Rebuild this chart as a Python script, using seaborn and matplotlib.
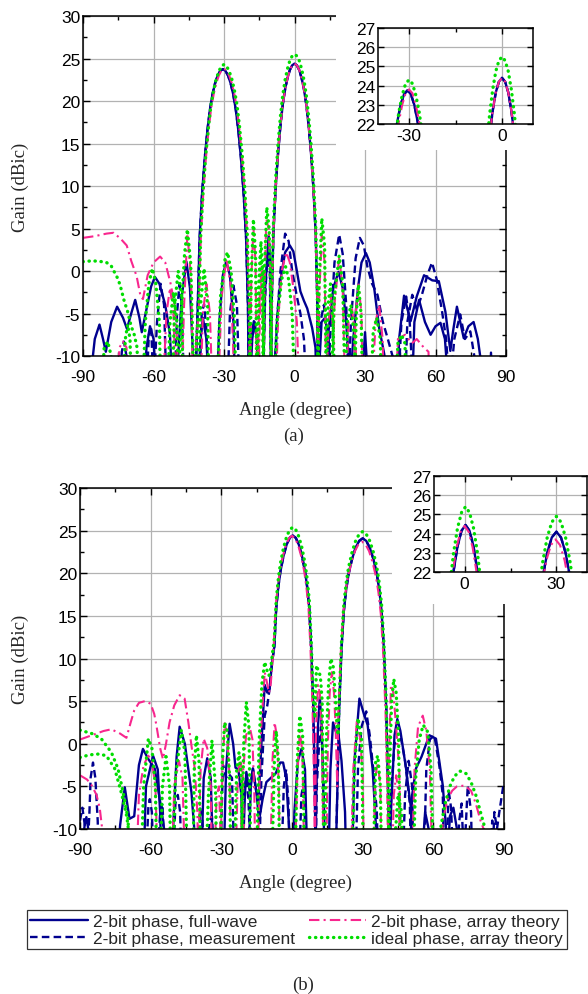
import matplotlib
matplotlib.use('Agg')
import matplotlib.pyplot as plt
from matplotlib.lines import Line2D
from matplotlib.patches import Rectangle
import seaborn as sns

# ---------------------------
# data: (angle deg, gain dBic); values below -10 are just clipped by the axes
# ---------------------------
# panel (a), beam at -30 deg
a_main_m30_blue = [(-41.2, -4.3), (-40.4, 3.8), (-39.3, 9.3), (-38.2, 13.3), (-37.1, 16.5), (-36, 19.0), (-34.9, 20.8),
                   (-33.8, 22.1), (-32.7, 23.0), (-31.6, 23.55), (-30.5, 23.75), (-29.4, 23.55), (-28.3, 23.0),
                   (-27.2, 22.1), (-26.1, 20.8), (-25, 19.0), (-23.9, 16.5), (-22.8, 13.3), (-21.7, 9.3),
                   (-20.6, 3.8), (-19.8, -4.3)]
a_main_m30_pink = [(-40.7, -4.2), (-39.9, 3.8), (-38.8, 9.3), (-37.7, 13.3), (-36.6, 16.5), (-35.5, 19.1), (-34.4, 20.8),
                   (-33.3, 22.1), (-32.2, 23.0), (-31.1, 23.6), (-30, 23.8), (-28.9, 23.6), (-27.8, 23.0),
                   (-26.7, 22.1), (-25.6, 20.8), (-24.5, 19.1), (-23.4, 16.5), (-22.3, 13.3), (-21.2, 9.3),
                   (-20.1, 3.8), (-19.3, -4.2)]
a_main_m30_green = [(-40.7, -3.7), (-39.9, 4.3), (-38.8, 9.8), (-37.7, 13.8), (-36.6, 17.0), (-35.5, 19.6), (-34.4, 21.3),
                    (-33.3, 22.6), (-32.2, 23.5), (-31.1, 24.1), (-30, 24.3), (-28.9, 24.1), (-27.8, 23.5),
                    (-26.7, 22.6), (-25.6, 21.3), (-24.5, 19.6), (-23.4, 17.0), (-22.3, 13.8), (-21.2, 9.8),
                    (-20.1, 4.3), (-19.3, -3.7)]
# panel (a), beam at 0 deg
a_main_0_2bit = [(-9.7, -3.6), (-9, 4.4), (-8, 9.9), (-7, 13.9), (-6, 17.1), (-5, 19.6), (-4, 21.4), (-3, 22.7),
                 (-2, 23.65), (-1, 24.2), (0, 24.4), (1, 24.2), (2, 23.65), (3, 22.7), (4, 21.4), (5, 19.6),
                 (6, 17.1), (7, 13.9), (8, 9.9), (9, 4.4), (9.7, -3.6)]
a_main_0_green = [(-9.7, -2.5), (-9, 5.5), (-8, 11.0), (-7, 15.0), (-6, 18.2), (-5, 20.7), (-4, 22.5), (-3, 23.8),
                  (-2, 24.75), (-1, 25.3), (0, 25.5), (1, 25.3), (2, 24.75), (3, 23.8), (4, 22.5), (5, 20.7),
                  (6, 18.2), (7, 15.0), (8, 11.0), (9, 5.5), (9.7, -2.5)]

a_fw_m30 = ([(-90, -14), (-86, -10.5), (-85, -8), (-83, -6.3), (-81.5, -8), (-80.3, -9.5), (-78, -6), (-75.5, -4.2),
             (-73, -5.5), (-71.3, -6.8), (-69.5, -5), (-67.8, -3.4), (-66, -5.5), (-65, -7.2), (-63, -4.5),
             (-61, -1.8), (-59.4, -0.7), (-57.5, -1.5), (-55, -4), (-53, -7.5), (-52, -14), (-49.5, -10),
             (-48, -3), (-46, 1.1), (-44.5, -2), (-43.2, -10), (-42.3, -14)]
            + a_main_m30_blue +
            [(-19.5, -14), (-18.8, -8), (-17.3, -5.9), (-16, -8), (-15, -14), (-9, -14), (-8, -9.4), (-7.4, -5.5),
             (-5.9, -0.9), (-4, 2.2), (-2, 3.0), (-0.5, 2.3), (1, 0), (2.5, -2.4), (4, -3.5), (5.4, -4.4),
             (7.5, -6.7), (8.9, -9), (9.5, -14), (13.5, -14), (14.5, -7), (16.5, -2), (18.7, -0.1), (20.5, -2),
             (22, -6), (23, -10), (23.5, -14), (25, -8), (27, -2), (28.5, 1.0), (30.4, 2.1), (32, 1.0),
             (33.9, -2), (36, -6.7), (38.2, -9.8), (39, -14), (43.8, -14), (44.5, -8), (46.6, -2.9),
             (49.4, -5.9), (52, -3), (55.1, -0.5), (58.6, -1.1), (61.4, -1.2), (64.2, -4.8), (66.3, -9.4),
             (67.5, -7), (69.1, -4.2), (72, -7.9), (74, -6.5), (76.2, -6), (78, -8), (79, -10), (80, -14),
             (90, -14)])
a_fw_0 = ([(-90, -14), (-64, -14), (-63, -9), (-61.5, -6.5), (-60, -8), (-59, -14), (-41, -14), (-40, -8),
           (-39, -5.5), (-37.5, -8), (-36.5, -14), (-33, -14), (-32, -6), (-30.5, -0.5), (-29, 1.1),
           (-27.5, -0.5), (-26, -6), (-25.3, -14), (-19, -14), (-18, -8), (-17, -6), (-16, -8), (-15.3, -14),
           (-13.5, -14), (-12.5, -2), (-11, 4.2), (-10.4, 1), (-10, -14)]
          + a_main_0_2bit +
          [(10, -14), (11.5, -6), (13, -5.5), (14.5, -8), (15.5, -14), (28.5, -14), (30, -7.2), (31.5, -14),
           (50, -14), (51, -6), (53, -3.4), (55.5, -6), (57.9, -7.5), (60, -6.5), (62.1, -6.1), (64, -8),
           (65.6, -14), (83, -14), (83.6, -9.6), (84.2, -14), (90, -14)])
a_ms_m30 = ([(-90, -14), (-74.5, -14), (-73.5, -9.5), (-72.6, -8.3), (-71.5, -10), (-71, -14), (-60, -14),
             (-58.5, -6), (-57, -1.5), (-55.5, -4), (-54.5, -14), (-51, -14), (-50, -5), (-49, -1.6), (-48, -4),
             (-47, -14), (-42.3, -14)]
            + a_main_m30_blue +
            [(-19.5, -14), (-9, -14), (-7.5, -6), (-6, 0), (-4, 4.4), (-2.5, 3.5), (-1, 0), (1, -3), (2.5, -5),
             (4, -8), (5, -14), (14, -14), (15.5, -6), (17, 1), (19, 4.3), (20.5, 2), (22, -4), (23, -14),
             (24, -6), (26, 1.5), (27.8, 3.9), (29.5, 3.0), (31, 0.5), (33, -1.5), (35.3, -2.8), (37.5, -5.9),
             (39.6, -7.9), (41.7, -10), (42.5, -14), (47, -14), (48, -6), (50.1, -2.8), (52, -4.5), (54, -3),
             (56.5, -0.5), (58.5, 1.0), (60.5, -1), (62.8, -4.8), (64.5, -8), (66, -14), (68, -8), (70.5, -5.1),
             (72.5, -8), (74.8, -7.1), (76.5, -10), (77, -14), (90, -14)])
a_ms_0 = ([(-90, -14), (-63, -14), (-62, -7.5), (-61, -6.5), (-60, -14), (-40.5, -14), (-39.5, -5), (-38.5, -3.9),
           (-37.5, -7), (-36.5, -14), (-28.5, -14), (-27.5, -5), (-26, -1.7), (-24.5, -4), (-23.5, -14),
           (-13.5, -14), (-12.5, -3), (-11.5, 2), (-10.5, 0), (-10, -14)]
          + a_main_0_2bit +
          [(10, -14), (11, -6), (12.5, -4), (14, -8), (15, -14), (44, -14), (45.5, -6), (47.5, -3), (49, -6),
           (50.5, -14), (90, -14)])
a_at_m30 = ([(-90, 3.9), (-85, 4.1), (-80, 4.4), (-77, 4.5), (-74, 3.8), (-71.4, 3.0), (-69.5, 1.2), (-67.2, -0.6),
             (-65.5, -3), (-64.5, -3.3), (-62.5, -0.5), (-60, 1.0), (-57.2, 1.7), (-55, 1.0), (-52.8, -1.4),
             (-51, -4), (-50, -8), (-49.5, -14), (-48, -14), (-47, -4), (-45.6, 4.4), (-44, -1), (-43.2, -14)]
            + a_main_m30_pink +
            [(-19, -14), (-18.4, -1), (-17.5, 5.1), (-16.6, 1), (-16, -14), (-15, -4), (-14, 0.5), (-13.2, -3),
             (-12.8, -14), (-8, -14), (-7, -6), (-5.5, 0), (-3.5, 2.2), (-2, 1), (-0.5, -2), (1, -6), (2, -14),
             (16, -14), (17, -4), (19, 1.6), (20.5, -2), (21.5, -14), (25, -14), (26, -5), (27.2, -1.6),
             (28.5, -5), (29, -14), (33, -14), (34.5, -6), (36, -4), (37.5, -8), (38, -14), (43, -14), (44, -8),
             (47, -7.5), (50, -8.5), (52, -8), (55, -9), (57, -9.5), (57.5, -14), (90, -14)])
a_at_0 = ([(-90, -14), (-75.5, -14), (-74.5, -9), (-73, -8.3), (-71.5, -9), (-70.5, -14), (-56, -14), (-54.5, -5),
           (-53, -2), (-51.5, -5), (-50.5, -14), (-40, -14), (-39, -5), (-37.5, -1.5), (-36, -5), (-35, -14),
           (-32.5, -14), (-31, -3), (-29, 1.5), (-27, -2), (-25.5, -14), (-15.5, -14), (-14.5, -3), (-13.8, 0),
           (-13.2, -14), (-12.8, -2), (-12, 6.1), (-11, 5), (-10.3, 0), (-10, -14)]
          + a_main_0_2bit +
          [(10, -14), (10.5, -3), (11.6, 4.2), (12.8, 1), (13.5, -14), (14.5, -6), (15.5, -3), (16.5, -8),
           (17, -14), (22, -14), (23, -6), (24.5, -4.5), (26, -8), (26.5, -14), (90, -14)])
a_id_m30 = ([(-90, 1.1), (-86, 1.2), (-82, 1.1), (-80, 1.0), (-78, 0.6), (-76.7, -0.1), (-75, -1), (-73.9, -2),
             (-72.5, -3.5), (-71, -4.8), (-69.5, -6.5), (-68.2, -7.5), (-67, -9), (-66.5, -14), (-64.5, -14),
             (-63.5, -6), (-62, -1.5), (-60.5, 0.3), (-59, -1.5), (-57.5, -6), (-57, -14), (-54, -14), (-53, -6),
             (-51.5, -2.5), (-50, -6), (-49.5, -14), (-48, -4), (-46.8, 2), (-45.6, 4.9), (-44.2, 1),
             (-43.5, -6), (-43, -14)]
            + a_main_m30_green +
            [(-19, -14), (-18.4, -0.5), (-17.5, 6.1), (-16.6, 2), (-16, -14), (-15.2, -2), (-14.3, 3.5),
             (-13.4, 0), (-13, -14), (-8.5, -14), (-7.5, -6), (-5.5, -1), (-3.8, 0.5), (-2.5, -1), (-1, -5),
             (0, -14), (15.5, -14), (17, -3), (19, 1.8), (20.5, -1.5), (21.5, -14), (25.5, -14), (26.3, -5),
             (27.2, -1.6), (28.3, -5), (29, -14), (32.5, -14), (33.5, -7), (35, -5.5), (36.5, -8), (37, -14),
             (43, -14), (44, -8.5), (45.5, -7.5), (47, -8.5), (47.5, -14), (90, -14)])
a_id_0 = ([(-90, -14), (-82, -14), (-81, -9), (-79.5, -8.3), (-78, -10), (-77.5, -14), (-73, -14), (-72, -8),
           (-71, -6.3), (-70, -8), (-69.5, -14), (-52, -14), (-51, -4), (-49.5, 0), (-48, -3), (-47.5, -14),
           (-41, -14), (-40, -4), (-38.5, 0.3), (-37, -4), (-36.5, -14), (-33, -14), (-31.5, -3), (-29.5, 1.5),
           (-28.5, 2.2), (-27, 0), (-25.5, -6), (-25, -14), (-16, -14), (-15.2, -2), (-14.5, 2), (-13.7, 0),
           (-13.3, -14), (-12.8, 0), (-11.8, 7.5), (-10.8, 5), (-10.2, -2), (-10, -14)]
          + a_main_0_green +
          [(10, -14), (10.4, -2), (11.6, 6.2), (12.8, 3), (13.5, -14), (14.3, -4), (15.3, -1.5), (16.5, -7),
           (17, -14), (21.5, -14), (22.5, -6), (24, -4), (25.5, -8), (26, -14), (90, -14)])

# panel (b), beams at 0 and 30 deg
b_main_0_blue = [(-9.5, 6.5), (-8.5, 9.5), (-7.5, 11.45), (-6.7, 15.95), (-5.8, 18.45), (-4.9, 20.25), (-3.6, 22.05),
                 (-2.3, 23.35), (-1.0, 24.15), (0.3, 24.45), (1.6, 24.15), (2.9, 23.35), (4.2, 22.05), (5.5, 20.25),
                 (6.4, 18.45), (7.3, 15.95), (8.1, 11.45), (9.0, 4.45), (9.7, -5.55)]
b_main_0_pink = [(-9.2, 6.5), (-8.2, 9.8), (-7.8, 11.4), (-7.0, 15.9), (-6.1, 18.4), (-5.2, 20.2), (-3.9, 22.0),
                 (-2.6, 23.3), (-1.3, 24.1), (0, 24.4), (1.3, 24.1), (2.6, 23.3), (3.9, 22.0), (5.2, 20.2),
                 (6.1, 18.4), (7.0, 15.9), (7.8, 11.4), (8.7, 4.4), (9.4, -5.6)]
b_main_0_green = [(-9.2, 8.5), (-8.4, 10.4), (-7.5, 12.4), (-6.7, 16.9), (-5.8, 19.4), (-4.9, 21.2), (-3.6, 23.0),
                  (-2.3, 24.3), (-1.0, 25.1), (0.3, 25.4), (1.6, 25.1), (2.9, 24.3), (4.2, 23.0), (5.5, 21.2),
                  (6.4, 19.4), (7.3, 16.9), (8.1, 12.4), (9.0, 5.4), (9.7, 3)]
b_main_30_blue = [(19.2, -5.9), (20, 4.1), (21, 11.1), (22, 15.6), (23, 18.1), (24, 19.9), (25.5, 21.7), (27, 23.0),
                  (28.5, 23.8), (30, 24.1), (31.5, 23.8), (33, 23.0), (34.5, 21.7), (36, 19.9), (37, 18.1),
                  (38, 15.6), (39, 11.1), (40, 4.1), (40.8, -5.9)]
b_main_30_pink = [(19.2, -5), (19.7, 3.7), (20.7, 10.7), (21.7, 15.2), (22.7, 17.7), (23.7, 19.5), (25.2, 21.3),
                  (26.7, 22.6), (28.2, 23.4), (29.7, 23.7), (31.2, 23.4), (32.7, 22.6), (34.2, 21.3), (35.7, 19.5),
                  (36.7, 17.7), (37.7, 15.2), (38.7, 10.7), (39.7, 3.7), (40.4, -5)]
b_main_30_green = [(19.6, 1), (20, 4.9), (21, 11.9), (22, 16.4), (23, 18.9), (24, 20.7), (25.5, 22.5), (27, 23.8),
                   (28.5, 24.6), (30, 24.9), (31.5, 24.6), (33, 23.8), (34.5, 22.5), (36, 20.7), (37, 18.9),
                   (38, 16.4), (39, 11.9), (40, 4.9), (40.8, -5)]

b_fw_0 = ([(-90, -14), (-88, -9.5), (-87.3, -8.6), (-86.5, -10), (-86, -14), (-74, -14), (-73, -9.6), (-71, -5.1),
           (-69, -8.8), (-67, -8.5), (-65, -2.5), (-63.3, -0.6), (-61, -1.8), (-58.3, -2.9), (-55.5, -7.6),
           (-54.3, -10), (-54, -14), (-51, -14), (-50.5, -10), (-49, -1.5), (-47.7, 2.0), (-45.5, 0),
           (-42.7, -5.7), (-41.5, -10), (-41, -14), (-38.5, -14), (-37.5, -4), (-36, -1.7), (-34.5, -4),
           (-33.5, -14), (-29, -14), (-28, -3), (-26.5, 2.35), (-25, 0), (-24, -2.8), (-22.8, -3), (-21.5, -6),
           (-21, -14), (-18.5, -14), (-17.5, -5), (-16.6, -2.9), (-15.5, -5), (-14.3, -7), (-13, 0), (-11.6, 6.9),
           (-10.5, 6.0)]
          + b_main_0_blue +
          [(10, -14), (10.3, -6), (11, 2), (11.8, 5.5), (12.6, 2), (13.3, -6), (13.8, -14), (15.5, -14), (16.3, -3),
           (17.4, 2.5), (18.5, 1.5), (19.6, 1.4), (21, -2), (22.5, -8), (23, -14), (25.5, -14), (26.5, -2),
           (28.6, 5.3), (30.5, 3.5), (32.1, 2.2), (34.2, -2.9), (35.7, -10), (36, -14), (50, -14), (51, -6),
           (52.6, -2.9), (55, -1.5), (58.3, 1.0), (61.1, 0.6), (62.5, -2), (64, -4.9), (65.4, -10), (65.8, -14),
           (90, -14)])
b_fw_30 = ([(-90, -14), (-63, -14), (-62, -5), (-59, -1.4), (-57, -3), (-56, -8), (-55.5, -14), (-21, -14), (-20, -6),
            (-19.4, -3.3), (-18, -5.5), (-16.6, -2.9), (-15, -6), (-14, -9), (-12.5, -6.5), (-10.9, -4.5), (-9, -4),
            (-7, -3.5), (-5, -2.2), (-3.8, -2.2), (-2.5, -4), (-1.2, -10), (-1, -14), (0.5, -14), (1, -8),
            (2.5, -2), (4, -0.6), (5.5, -3), (6.5, -14), (18.5, -14)]
           + b_main_30_blue +
           [(41.3, -14), (42, -8), (43.5, 1), (44.7, 2.9), (46, 1.5), (48.4, -2.9), (50.5, -7.6), (51.3, -14),
            (55, -14), (56.5, -8), (58, -10), (58.5, -14), (66, -14), (67, -8.5), (68.5, -7.5), (70, -10),
            (70.5, -14), (90, -14)])
b_ms_0 = ([(-90, -9), (-89, -7.5), (-88, -9.5), (-87, -14), (-86, -8), (-85.5, -4), (-84.5, -2.2), (-83.5, -4),
           (-82.5, -9), (-82, -14), (-62, -14), (-61, -7.5), (-60.4, -6.5), (-59.5, -8), (-58.8, -14), (-50.5, -14),
           (-49.5, -7), (-48.5, -6), (-47.5, -8), (-47, -14), (-40, -14), (-39, -7.6), (-38, -9), (-37.5, -14),
           (-30.5, -14), (-29.3, -2.5), (-28, -4), (-27, -3.5), (-25.5, -4), (-24.5, -14), (-14, -14), (-13, -4),
           (-11.6, 3.3), (-10.5, 4.5)]
          + b_main_0_blue +
          [(10, -14), (10.5, -5), (11.5, 0), (12.3, 2), (13.3, -3), (14, -14), (27, -14), (28, -3), (29.5, 2),
           (31.5, 3.8), (33, 1), (34.5, -3), (36, -8), (36.5, -14), (47, -14), (48, -6), (49.5, -2), (51, -5),
           (51.5, -14), (56, -14), (57, -3), (58.5, 0.5), (60.4, 1.0), (62.5, -2.5), (64, -6), (64.5, -14),
           (73, -14), (74.6, -4.9), (76, -8), (76.5, -14), (85, -14), (85.9, -8), (87, -10), (88, -8),
           (89.7, -4.9), (90, -4.5)])
b_ms_30 = ([(-90, -14), (-57, -14), (-56, -8), (-55, -7), (-54, -14), (-36, -14), (-35, -9), (-34, -8.5), (-33, -14),
            (-21.5, -14), (-20.5, -6), (-19.5, -4), (-18.5, -6.5), (-17.5, -14), (-4.5, -14), (-3.5, -5),
            (-2.5, -3), (-1.5, -7), (-1, -14), (3, -14), (4, -6), (5, -4.5), (6, -14), (18.5, -14)]
           + b_main_30_blue +
           [(41.3, -14), (42, -6), (43.5, 0), (46.3, 0.6), (48, -2), (50, -7), (50.5, -14), (65.5, -14),
            (66.5, -5.5), (67.5, -7.5), (68.5, -14), (70, -14), (71, -9), (72, -7), (73, -14), (84, -14),
            (85, -9), (85.5, -14), (90, -14)])
b_at_0 = ([(-90, -3.7), (-87, -4.2), (-85, -4.9), (-83, -6), (-81.6, -7.6), (-80.6, -10), (-80.2, -14), (-66, -14),
           (-65, -6), (-63, -2.5), (-61, -1.4), (-59.5, -2), (-58, -5), (-57, -14), (-51, -14), (-50, -5), (-48, -2),
           (-46.5, -4), (-45.5, -14), (-33, -14), (-32, -6), (-31, -5), (-30, -14), (-24, -14), (-23, -4),
           (-22, -1.5), (-21, -4), (-20, -14), (-14.5, -14), (-13.5, 0), (-11.6, 8.4), (-10.5, 7), (-9.8, 6)]
          + b_main_0_pink +
          [(9.7, -14), (10.2, 2), (11, 6.9), (11.8, 6), (12.8, 0), (13.3, -14), (25, -14), (26, -3), (27.5, 2.6),
           (29, 0.5), (30, -4), (30.5, -14), (34.5, -14), (35.3, -4), (36.4, -2.2), (37.5, -5), (38, -14),
           (42.5, -14), (43.2, -6), (44.2, -3.7), (45.3, -6), (46, -14), (90, -14)])
b_at_30 = ([(-90, 0.5), (-85, 1.0), (-80, 1.5), (-76.7, 1.7), (-73, 1.2), (-70.3, 0.7), (-68.5, 2.5), (-67, 3.9),
            (-65, 4.8), (-62.5, 5.0), (-60, 4.7), (-58.5, 3.5), (-57.6, 2.2), (-56, -0.5), (-54.8, -1.8),
            (-53.5, 0), (-52, 2.5), (-50, 4.5), (-47.7, 5.7), (-45.6, 5.3), (-44, 2.5), (-42.7, -0.2),
            (-41.3, -2.9), (-40.2, -8), (-39.8, -14), (-38.8, -3), (-37.5, 0.6), (-36, -0.5), (-34.5, -5),
            (-34, -14), (-30.5, -14), (-29.5, -3), (-28.6, 2.4), (-27.5, 1), (-26.5, -4), (-26, -14), (-22, -14),
            (-21, -4), (-19.5, 1.0), (-18, 2.0), (-16.8, 0.5), (-16, -6), (-15.6, -14), (-9.2, -14), (-8.3, -2),
            (-7.4, 2.5), (-6.5, 1), (-5.6, -5), (-5.2, -14), (1.2, -14), (2.2, -4), (3.3, 1.5), (4.4, -1),
            (5.2, -14), (14.5, -14), (15.2, 0), (16, 6), (16.9, 8.4), (17.8, 6), (18.5, 2)]
           + b_main_30_pink +
           [(40.8, -14), (41, -3), (42, 6.9), (43, 6), (44.2, 2), (45.5, -3), (46.5, -14), (51, -14), (52, -3),
            (53.5, 2), (55.5, 3.3), (57, 1.5), (58.5, -3), (59.5, -14), (63, -14), (64, -9), (66, -6.5),
            (68, -5.5), (70, -5), (73.2, -4.9), (76, -5.5), (78, -7), (80, -9), (82, -10.5), (83, -14), (90, -14)])
b_id_0 = ([(-90, -1.6), (-86, -1.3), (-82, -1.2), (-78.8, -1.4), (-75.3, -2.9), (-72.5, -5.7), (-70.5, -8),
           (-69.6, -9.6), (-69.2, -14), (-56, -14), (-55, -5), (-53.5, -1.5), (-52, -5), (-51.5, -14), (-36.5, -14),
           (-35.5, -6), (-34, 0.4), (-32.5, -5), (-32, -14), (-24.5, -14), (-23.5, -3), (-22.5, -1), (-21.5, -4),
           (-21, -14), (-15, -14), (-14, 0), (-12.8, 7), (-11.6, 9.6), (-10.5, 8.5), (-9.8, 8)]
          + b_main_0_green +
          [(10.4, 9.2), (11.2, 8.5), (12, 8.0), (12.8, 5), (13.5, -14), (25.5, -14), (26.5, -3), (28, 3.0),
           (29.5, 0.5), (30.3, -14), (34.5, -14), (35.5, -2), (36.4, -1.4), (37.5, -5), (38, -14), (43, -14),
           (45, -6), (46.5, -8), (47, -14), (90, -14)])
b_id_30 = ([(-90, 1.6), (-85, 1.2), (-81, 0.6), (-76.7, -1), (-73.9, -2.9), (-71.7, -5.7), (-69.6, -8.8), (-69, -14),
            (-64, -14), (-63, -5), (-61, 0.6), (-59.5, -0.5), (-58, -5), (-57.5, -14), (-50.5, -14), (-49.5, -4),
            (-47, 1.6), (-45.5, -1), (-44.5, -14), (-42, -14), (-41.5, -3), (-40.6, 1.0), (-39.5, -2),
            (-38.8, -14), (-30.5, -14), (-29.6, -2), (-28.6, 2.5), (-27.5, 1.5), (-26.5, -4), (-26, -14),
            (-21.5, -14), (-20.5, 0), (-19.4, 4.9), (-18.3, 2), (-17.5, -14), (-8.5, -14), (-7.5, -2),
            (-6.7, 1.5), (-5.8, -2), (-5.3, -14), (1.3, -14), (2.2, -2), (3.3, 3.3), (4.5, 1), (5.3, -14),
            (13.8, -14), (14.5, 0), (15.5, 7), (16.5, 10), (17.5, 9), (18.5, 5), (19.1, 2)]
           + b_main_30_green +
           [(41.1, -14), (41.5, -2), (42.3, 5), (43.2, 7.6), (44.2, 6), (45.2, 1), (46, -14), (51.5, -14),
            (52.5, -4), (54, 0.5), (55.7, 2.2), (57.6, 1.4), (59, -3), (60, -14), (62, -14), (63, -10), (65, -7),
            (67, -5), (69, -3.8), (71.3, -3.2), (73.9, -3.5), (76, -4.5), (78, -6), (80, -8), (81.5, -9.5),
            (82, -14), (90, -14)])

legend_labels = ['2-bit phase, full-wave', '2-bit phase, measurement',
                 '2-bit phase, array theory', 'ideal phase, array theory']

# ---------------------------
# styles
# ---------------------------
BLUE = '#00008F'
PINK = '#F8268E'
GREEN = '#00DD00'
STYLE = {
    'fw': dict(color=BLUE, linestyle='-', lw=1.7),
    'ms': dict(color=BLUE, linestyle=(0, (3.2, 1.8)), lw=1.7),
    'at': dict(color=PINK, linestyle=(0, (5, 2, 1, 2)), lw=1.5),
    'id': dict(color=GREEN, linestyle=(0, (0.1, 1.7)), lw=2.4, dash_capstyle='round'),
}

panel_a = [('fw', a_fw_m30), ('fw', a_fw_0), ('ms', a_ms_m30), ('ms', a_ms_0),
           ('at', a_at_m30), ('at', a_at_0), ('id', a_id_m30), ('id', a_id_0)]
panel_b = [('fw', b_fw_0), ('fw', b_fw_30), ('ms', b_ms_0), ('ms', b_ms_30),
           ('at', b_at_0), ('at', b_at_30), ('id', b_id_0), ('id', b_id_30)]

sns.set_style('ticks')
plt.rcParams['font.family'] = ['Liberation Sans', 'DejaVu Sans']
plt.rcParams['axes.unicode_minus'] = False
SERIF = ['Liberation Serif', 'DejaVu Serif']
GRID = '#b2b2b2'


def draw_curves(ax, curves):
    for key, pts in curves:
        st = STYLE[key]
        sns.lineplot(x=[p[0] for p in pts], y=[p[1] for p in pts], ax=ax, estimator=None, sort=False,
                     legend=False, **st)


def style_axes(ax, xmaj, xmin, ymaj, ymin, fs, xpad):
    ax.set_xticks(xmaj)
    ax.set_xticks(xmin, minor=True)
    ax.set_yticks(ymaj)
    ax.set_yticks(ymin, minor=True)
    ax.grid(True, which='major', color=GRID, lw=0.9)
    ax.tick_params(which='both', direction='in', top=True, right=True, colors='black', labelsize=fs, width=1)
    ax.tick_params(which='major', length=5)
    ax.tick_params(which='minor', length=3)
    ax.tick_params(axis='x', which='major', pad=xpad)
    ax.tick_params(axis='y', which='major', pad=2)
    for s in ax.spines.values():
        s.set_color('black')
        s.set_linewidth(1.1)
    ax.set_xlabel('')
    ax.set_ylabel('')


fig = plt.figure(figsize=(5.88, 9.95), dpi=100)

main_pos = {'a': [0.1412, 0.6412, 0.7194, 0.3417], 'b': [0.1361, 0.1658, 0.7211, 0.3427]}
inset_pos = {'a': [0.6429, 0.8744, 0.2636, 0.0965], 'b': [0.7381, 0.4241, 0.2602, 0.0965]}
cover_pos = {'a': (0.5714, 0.8482, 0.3554, 0.1518), 'b': (0.6667, 0.3920, 0.3333, 0.1437)}
inset_x = {'a': ((-40, 10), [-30, 0], [-15]), 'b': ((-10, 40), [0, 30], [15])}
label_y = {'a': (0.812, 0.588, 0.561), 'b': (0.337, 0.1126, 0.010)}

for name, curves in [('a', panel_a), ('b', panel_b)]:
    ax = fig.add_axes(main_pos[name])
    draw_curves(ax, curves)
    ax.set_xlim(-90, 90)
    ax.set_ylim(-10, 30)
    style_axes(ax, list(range(-90, 91, 30)), list(range(-75, 90, 30)),
               list(range(-10, 31, 5)), [v / 2 for v in range(-15, 60, 10)], 12.5, 9)

    fig.patches.append(Rectangle(cover_pos[name][:2], cover_pos[name][2], cover_pos[name][3],
                                 transform=fig.transFigure, facecolor='white', edgecolor='none', zorder=1))

    axi = fig.add_axes(inset_pos[name], zorder=2)
    draw_curves(axi, curves)
    xl, xmaj, xmin = inset_x[name]
    axi.set_xlim(*xl)
    axi.set_ylim(22, 27)
    style_axes(axi, xmaj, xmin, list(range(22, 28)), [], 12.5, 3)
    axi.tick_params(which='major', length=4)

    yl, xlab, plab = label_y[name]
    fig.text(0.034, yl, 'Gain (dBic)', rotation=90, ha='center', va='center', fontsize=13.5, family=SERIF)
    fig.text(0.502, xlab, 'Angle (degree)', ha='center', va='center', fontsize=13.5, family=SERIF)
    fig.text(0.500 if name == 'a' else 0.515, plab, '(%s)' % name, ha='center', va='center',
             fontsize=13.5, family=SERIF)

handles = [Line2D([], [], **STYLE[k]) for k in ['fw', 'ms', 'at', 'id']]
leg = fig.legend(handles, legend_labels, ncol=2, loc='upper left',
                 bbox_to_anchor=(27 / 588, 1 - 911 / 995), frameon=True, fancybox=False,
                 fontsize=12.5, handlelength=3.3, handletextpad=0.3, labelspacing=0.12, borderpad=0.2,
                 columnspacing=0.8, borderaxespad=0)
leg.get_frame().set_edgecolor('black')
leg.get_frame().set_linewidth(0.9)

fig.savefig('out.png', dpi=100)
